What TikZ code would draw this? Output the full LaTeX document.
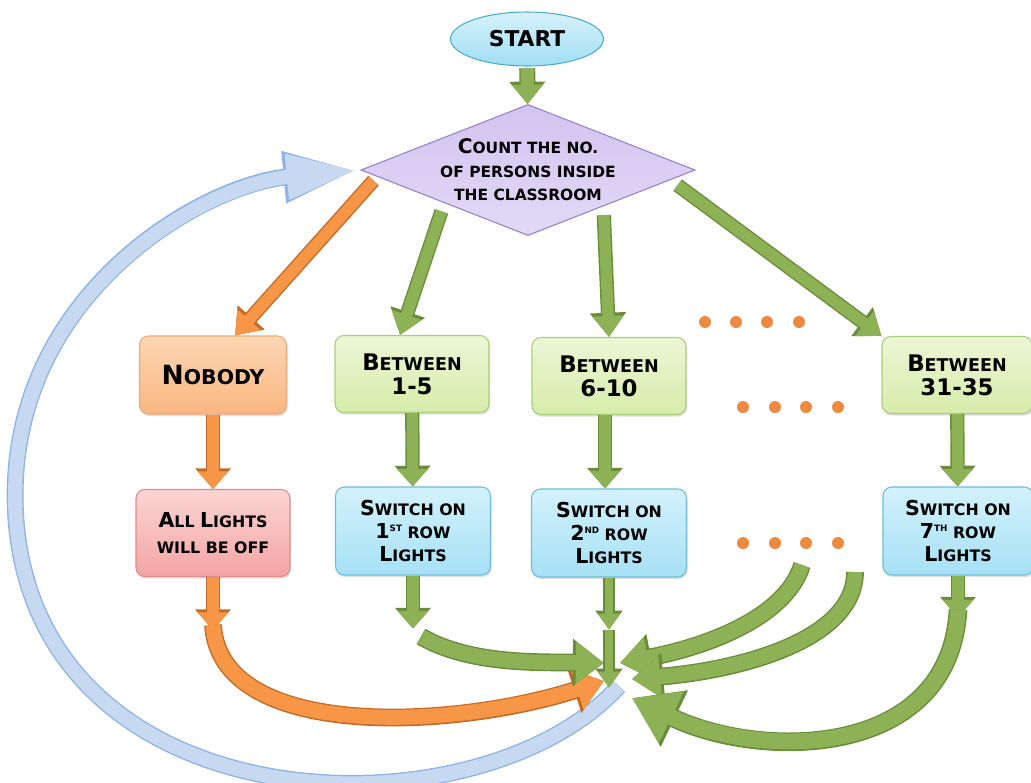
\documentclass[tikz,border=0pt]{standalone}
\usepackage{fontspec}
\usepackage{graphicx}
\setmainfont{DejaVu Sans}
\usetikzlibrary{arrows.meta,shapes.geometric,shadows,calc}

\definecolor{agreen}{HTML}{8DB255}
\definecolor{agreenD}{HTML}{6A8B3A}
\definecolor{aorange}{HTML}{F79646}
\definecolor{aorangeD}{HTML}{C46A25}
\definecolor{ablue}{HTML}{C6D9F1}
\definecolor{ablueD}{HTML}{8EB4E3}
\definecolor{dotc}{HTML}{EB8A40}

\newcommand{\fc}[1]{\scalebox{1.3}{#1}}
\newcommand{\sups}[1]{\raisebox{0.45em}{\fontsize{5}{5}\selectfont #1}}

\tikzset{
  % block arrow: fill, outline, shaft, head width, head length (pt)
  blk/.code n args={5}{%
    \pgfmathsetmacro\ow{#3+1.6}\pgfmathsetmacro\ohw{#4+2.8}\pgfmathsetmacro\ohl{#5+1.8}%
    \tikzset{draw=#1, line width=#3pt, -{Triangle[width=#4pt,length=#5pt]},
      preaction={draw=#2, line width=\ow pt, -{Triangle[width=\ohw pt,length=\ohl pt]}}}},
  box/.style={rectangle, rounded corners=5pt, line width=0.6pt, align=center,
    drop shadow={opacity=0.25, shadow xshift=0.6pt, shadow yshift=-1.2pt}},
  startn/.style={ellipse, draw={rgb,255:red,75;green,172;blue,198}, line width=0.6pt,
    top color={rgb,255:red,214;green,242;blue,251}, bottom color={rgb,255:red,160;green,222;blue,243},
    minimum width=3.06cm, minimum height=1.08cm, font=\fontsize{12.4}{14}\selectfont\bfseries},
  countn/.style={diamond, aspect=2.55, inner sep=0pt, draw={rgb,255:red,150;green,128;blue,196},
    line width=0.6pt, top color={rgb,255:red,210;green,196;blue,240},
    bottom color={rgb,255:red,226;green,217;blue,246}, align=center,
    font=\fontsize{8.8}{13.4}\selectfont\bfseries},
  nobodyn/.style={box, draw={rgb,255:red,236;green,170;blue,120},
    top color={rgb,255:red,252;green,214;blue,180}, bottom color={rgb,255:red,249;green,182;blue,128},
    minimum width=2.94cm, minimum height=1.56cm, font=\fontsize{11.6}{14}\selectfont\bfseries},
  rangen/.style={box, draw={rgb,255:red,170;green,206;blue,120},
    top color={rgb,255:red,236;green,246;blue,214}, bottom color={rgb,255:red,214;green,236;blue,170},
    minimum width=3.08cm, minimum height=1.54cm, font=\fontsize{10}{13.6}\selectfont\bfseries},
  switchn/.style={box, draw={rgb,255:red,110;green,188;blue,218},
    top color={rgb,255:red,210;green,242;blue,252}, bottom color={rgb,255:red,166;green,224;blue,245},
    minimum width=3.1cm, minimum height=1.76cm, font=\fontsize{9}{13}\selectfont\bfseries},
  offn/.style={box, draw={rgb,255:red,220;green,140;blue,140},
    top color={rgb,255:red,251;green,212;blue,212}, bottom color={rgb,255:red,244;green,164;blue,164},
    minimum width=3.08cm, minimum height=1.74cm, font=\fontsize{9}{14.7}\selectfont\bfseries},
}

\begin{document}
\begin{tikzpicture}[x=0.02cm, y=-0.02cm]
  \useasboundingbox (0,0) rectangle (1031,782);

  \node[startn] (start) at (527,39) {START};
  \node[countn] (count) at (528,170) {\fc{C}OUNT THE NO.\\OF PERSONS INSIDE\\THE CLASSROOM};

  \node[nobodyn] (nobody) at (213,375) {\fc{N}OBODY};
  \node[rangen] (b15) at (412,374) {\fc{B}ETWEEN\\\fc{1-5}};
  \node[rangen] (b610) at (609,376) {\fc{B}ETWEEN\\\fc{6-10}};
  \node[rangen, minimum width=3cm] (b3135) at (957,375) {\fc{B}ETWEEN\\\fc{31-35}};

  \node[offn] (alloff) at (213,533) {\fc{A}LL \fc{L}IGHTS\\WILL BE OFF};
  \node[switchn] (sw1) at (413,531) {\fc{S}WITCH ON\\\fc{1}\sups{ST} ROW\\\fc{L}IGHTS};
  \node[switchn] (sw2) at (609,533) {\fc{S}WITCH ON\\\fc{2}\sups{ND}\ ROW\\\fc{L}IGHTS};
  \node[switchn, minimum width=3cm] (sw7) at (958,531) {\fc{S}WITCH ON\\\fc{7}\sups{TH}\ ROW\\\fc{L}IGHTS};

  % dots for the missing ranges
  \foreach \x in {705,736,767,799}
    \fill[dotc] (\x,322) circle [radius=6];
  \foreach \x in {743,775,806,838} {
    \fill[dotc] (\x,407) circle [radius=6];
    \fill[dotc] (\x,543) circle [radius=6];
  }

  \coordinate (hub) at (612,672);
  \coordinate (dA) at (802,565);
  \coordinate (dB) at (855,572);

  % loop back to counting
  \draw[blk={ablue}{ablueD}{8}{24}{40}, shorten >=2pt] ([shift={(7,14)}]hub)
    .. controls (480,840) and (40,830) .. (16,520)
    .. controls (0,300) and (200,185) .. (count.west);

  % top part
  \draw[blk={agreen}{agreenD}{7.5}{17}{11}, shorten <=1pt] (start) -- (count);
  \draw[blk={aorange}{aorangeD}{6.5}{17}{12}, shorten <=3pt]
    ($(count.west)!0.1!(count.south)$) -- ([xshift=0.44cm]nobody.north);
  \draw[blk={agreen}{agreenD}{6.5}{17}{12}, shorten <=5pt]
    (count.south west) -- ([xshift=-0.24cm]b15.north);
  \draw[blk={agreen}{agreenD}{6.5}{17}{12}, shorten <=5pt]
    ($(count.south)!0.45!(count.east)$) -- (b610.north);
  \draw[blk={agreen}{agreenD}{6.5}{17}{12}, shorten <=5pt]
    ($(count.east)!0.15!(count.south)$) -- (b3135.north west);

  \draw[blk={aorange}{aorangeD}{6.5}{17}{10}] (nobody) -- (alloff);
  \draw[blk={agreen}{agreenD}{6.5}{17}{10}] (b15) -- (sw1);
  \draw[blk={agreen}{agreenD}{6.5}{17}{10}] ([xshift=-0.08cm]b610.south) -- ([xshift=-0.08cm]sw2.north);
  \draw[blk={agreen}{agreenD}{6.5}{17}{10}] (b3135) -- (sw7);

  % towards the loop
  \draw[blk={aorange}{aorangeD}{6.5}{17}{10}] (alloff.south) -- ++(0,53) coordinate (t0);
  \draw[blk={aorange}{aorangeD}{8.5}{23}{16}] ([yshift=0.1cm]t0)
    .. controls (220,740) and (450,730) .. ([shift={(-8,9)}]hub);
  \draw[blk={agreen}{agreenD}{6.5}{17}{10}] (sw1.south) -- ++(0,53) coordinate (t1);
  \draw[blk={agreen}{agreenD}{8.5}{23}{16}] ([shift={(8,8)}]t1)
    .. controls (470,665) and (540,662) .. ([shift={(-8,-9)}]hub);
  \draw[blk={agreen}{agreenD}{5}{12}{9}] (sw2.south) -- ++(0,52) coordinate (t2);
  \draw[blk={agreen}{agreenD}{5}{12}{9}] (t2) -- ++(0,58);
  \draw[blk={agreen}{agreenD}{8.5}{23}{16}] (dA)
    .. controls (785,620) and (700,648) .. ([shift={(8,-9)}]hub);
  \draw[blk={agreen}{agreenD}{8.5}{23}{16}] (dB)
    .. controls (855,640) and (740,670) .. ([shift={(20,7)}]hub);
  \draw[blk={agreen}{agreenD}{6.5}{17}{10}] (sw7.south) -- ++(0,42) coordinate (t7);
  \draw[blk={agreen}{agreenD}{9}{31}{25}] ([yshift=0.16cm]t7)
    .. controls (950,760) and (760,760) .. ([shift={(20,26)}]hub);
\end{tikzpicture}
\end{document}
